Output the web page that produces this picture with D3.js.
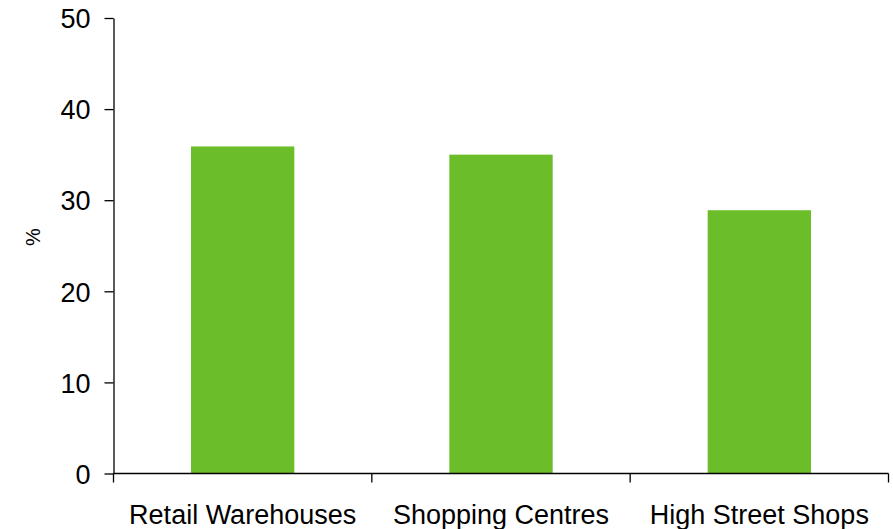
<!DOCTYPE html>
<html><head><meta charset="utf-8">
<script src="https://cdn.jsdelivr.net/npm/d3@7"></script>
<style>body{margin:0;background:#fff}svg{display:block}text{font-family:"Liberation Sans",Arial,sans-serif;fill:#000}</style>
</head><body>
<svg id="c" width="893" height="529"></svg>
<script>
const categories = ["Retail Warehouses", "Shopping Centres", "High Street Shops"];
const values = [35.9, 35.0, 28.9];
const yTicks = [0, 10, 20, 30, 40, 50];

const svg = d3.select("#c");
const mLeft = 113.5, mRight = 888.5, mTop = 18, mBottom = 473.5;
const x = d3.scaleBand().domain(categories).range([mLeft, mRight]).paddingInner(0.6).paddingOuter(0.3);
const xb = d3.scaleBand().domain(categories).range([mLeft, mRight]);
const y = d3.scaleLinear().domain([0, 50]).range([mBottom, mTop]);

svg.selectAll("rect.bar").data(values).join("rect")
  .attr("x", (d, i) => x(categories[i]))
  .attr("width", x.bandwidth())
  .attr("y", d => y(d))
  .attr("height", d => y(0) - y(d))
  .attr("fill", "#6BBE2A");

// y axis
const ya = svg.append("g").attr("transform", `translate(${mLeft},0)`)
  .call(d3.axisLeft(y).tickValues(yTicks).tickSize(9).tickPadding(14).tickSizeOuter(0));
ya.select(".domain").attr("stroke", "#000").attr("stroke-width", 1.3);
ya.selectAll(".tick line").attr("stroke", "#000").attr("stroke-width", 1.3);
ya.selectAll("text").style("font-size", "27px").attr("dy", "0.36em");

// x axis
const xa = svg.append("g").attr("transform", `translate(0,${mBottom})`);
xa.append("line").attr("x1", mLeft).attr("x2", mRight).attr("stroke", "#000").attr("stroke-width", 1.3);
const bounds = [...categories.map(c => xb(c)), mRight];
xa.selectAll("line.t").data(bounds).join("line").attr("class","t")
  .attr("x1", d => d).attr("x2", d => d).attr("y1", 0).attr("y2", 9)
  .attr("stroke", "#000").attr("stroke-width", 1.3);
xa.selectAll("text.l").data(categories).join("text").attr("class","l")
  .attr("x", d => xb(d) + xb.bandwidth()/2)
  .attr("y", 50.5)
  .attr("text-anchor", "middle")
  .style("font-size", "27px")
  .text(d => d);

svg.append("text")
  .attr("transform", "translate(40,237) rotate(-90)")
  .attr("text-anchor", "middle")
  .style("font-size", "20px")
  .text("%");
</script>
</body></html>
